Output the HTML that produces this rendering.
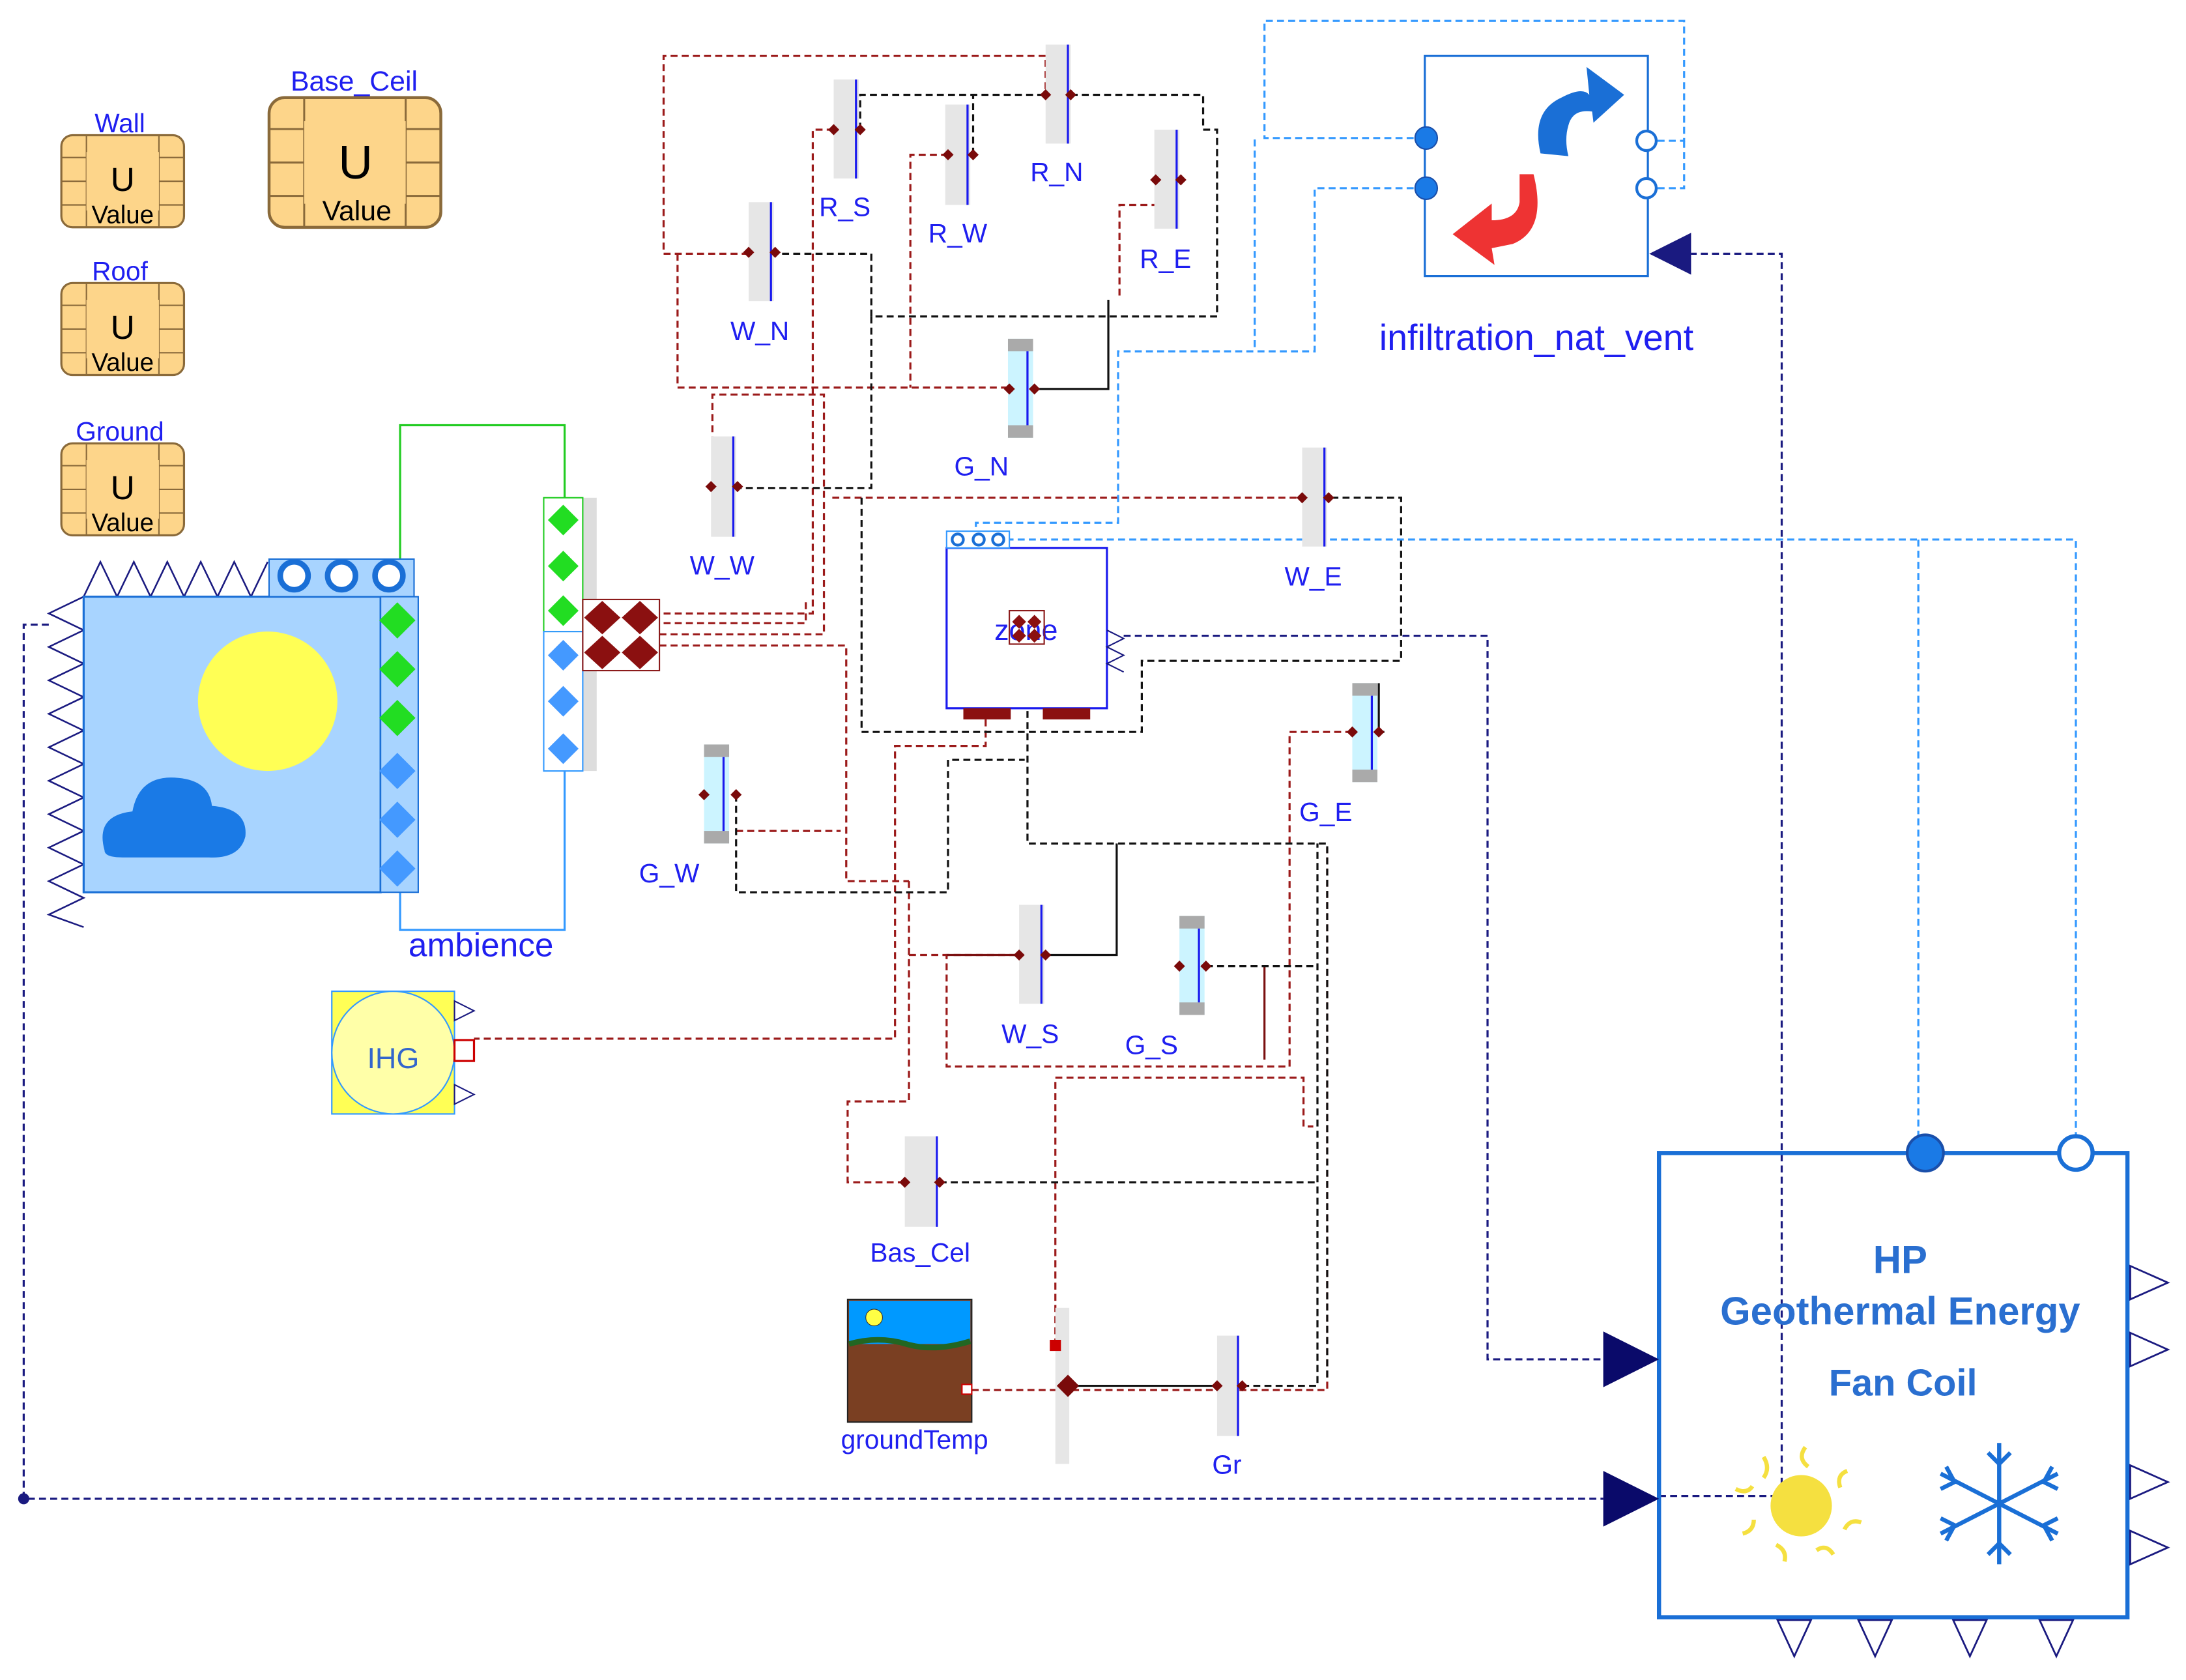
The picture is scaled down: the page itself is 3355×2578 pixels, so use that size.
<!DOCTYPE html>
<html><head><meta charset="utf-8"><style>
html,body{margin:0;padding:0;background:#fff;}
svg{display:block;}
text{font-family:"Liberation Sans",sans-serif;}
</style></head><body>
<svg width="3355" height="2578" viewBox="0 0 1568 1205" preserveAspectRatio="none" xmlns="http://www.w3.org/2000/svg">
<defs>
<g id="uval">
<rect x="0" y="0" width="88" height="66" rx="8" fill="#fdd58a" stroke="#8a6a3a" stroke-width="1.5"/>
<path d="M0 16H88M0 33H88M0 50H88M18 0V66M70 0V66" stroke="#8a6a3a" stroke-width="1" fill="none"/>
<rect x="18" y="12" width="52" height="42" fill="#fdd58a"/>
</g>
<g id="dia"><path d="M-4 0L0 -4L4 0L0 4Z" fill="#7a0a0a"/></g>
</defs>
<rect width="1568" height="1205" fill="#fff"/>

<!-- connections dark red -->
<g fill="none" stroke="#9b1a1a" stroke-width="1.5" stroke-dasharray="5,3">
<polyline points="537,182 476,182 476,40 750,40 750,68"/>
<polyline points="486,182 486,278 724,278"/>
<polyline points="598,93 583,93 583,440 473,440"/>
<polyline points="680,111 653,111 653,278"/>
<polyline points="829,129 829,147 803,147 803,215"/>
<polyline points="510,349 511,349 511,283 591,283 591,455 473,455"/>
<polyline points="476,447 578,447 578,430"/>
<polyline points="597,357 934,357"/>
<polyline points="473,463 607,463 607,632 652,632"/>
<polyline points="528,596 603,596"/>
<polyline points="970,525 925,525 925,765 679,765 679,685 731,685"/>
<polyline points="707,516 707,535 642,535 642,745 340,745"/>
<polyline points="652,632 652,790 608,790 608,848 649,848"/>
<polyline points="652,685 679,685"/>
<polyline points="757,965 757,773 935,773 935,808 942,808"/>
<polyline points="697,997 952,997 952,608"/>
</g>
<g fill="none" stroke="#7a1010" stroke-width="1.5">
<line x1="907" y1="693" x2="907" y2="760"/>
<line x1="679" y1="685" x2="731" y2="685"/>
</g>
<!-- black dashed -->
<g fill="none" stroke="#111" stroke-width="1.5" stroke-dasharray="5,3">
<polyline points="617,93 617,68 863,68 863,93 873,93 873,227 625,227 625,182 556,182"/>
<polyline points="698,111 698,68"/>
<polyline points="625,227 625,350 529,350"/>
<polyline points="618,357 618,525 819,525 819,474 1005,474 1005,357 953,357"/>
<polyline points="737,462 737,605 952,605 952,990"/>
<polyline points="528,570 528,640 680,640 680,545 735,545"/>
<polyline points="865,693 945,693"/>
<polyline points="674,848 945,848"/>
<polyline points="891,994 945,994 945,605"/>
<polyline points="989,525 993,525"/>
</g>
<g fill="none" stroke="#111" stroke-width="1.5">
<polyline points="742,279 795,279 795,215"/>
<polyline points="750,685 801,685 801,605"/>
<polyline points="767,994 873,994"/>
<polyline points="989,525 989,490"/>
</g>
<!-- navy dashed -->
<g fill="none" stroke="#1a1a80" stroke-width="1.5" stroke-dasharray="5,3">
<polyline points="35,448 17,448 17,1075 1150,1075"/>
<polyline points="1190,1073 1278,1073 1278,182 1213,182"/>
<polyline points="806,456 1067,456 1067,975 1150,975"/>
</g>
<circle cx="17" cy="1075" r="4" fill="#1a1a80"/>
<!-- light blue dashed -->
<g fill="none" stroke="#3399ff" stroke-width="1.5" stroke-dasharray="5,3">
<polyline points="1022,99 907,99 907,15 1208,15 1208,101 1181,101"/>
<polyline points="1181,135 1208,135 1208,101"/>
<polyline points="1022,135 943,135 943,252 802,252 802,375 700,375 700,387"/>
<polyline points="900,100 900,252"/>
<polyline points="722,387 1489,387 1489,815"/>
<polyline points="1376,387 1376,815"/>
</g>
<!-- green -->
<polyline points="287,428 287,305 405,305 405,357" fill="none" stroke="#22cc22" stroke-width="1.5"/>
<polyline points="405,553 405,667 287,667 287,640" fill="none" stroke="#3399ff" stroke-width="1.5"/>

<!-- U values -->
<use href="#uval" x="44" y="97"/><text x="86" y="95" font-size="19" fill="#1f1ff0" text-anchor="middle">Wall</text>
<text x="88" y="137" font-size="24" text-anchor="middle">U</text><text x="88" y="160" font-size="18" text-anchor="middle">Value</text>
<use href="#uval" x="44" y="203"/><text x="86" y="201" font-size="19" fill="#1f1ff0" text-anchor="middle">Roof</text>
<text x="88" y="243" font-size="24" text-anchor="middle">U</text><text x="88" y="266" font-size="18" text-anchor="middle">Value</text>
<use href="#uval" x="44" y="318"/><text x="86" y="316" font-size="19" fill="#1f1ff0" text-anchor="middle">Ground</text>
<text x="88" y="358" font-size="24" text-anchor="middle">U</text><text x="88" y="381" font-size="18" text-anchor="middle">Value</text>
<g transform="translate(193,70) scale(1.4,1.41)"><use href="#uval"/></g>
<text x="254" y="65" font-size="20" fill="#1f1ff0" text-anchor="middle">Base_Ceil</text>
<text x="255" y="128" font-size="34" text-anchor="middle">U</text><text x="256" y="158" font-size="20" text-anchor="middle">Value</text>

<!-- ambience -->
<g fill="#fff" stroke="#1a1a80" stroke-width="1.2">
<path d="M60 428L72 403L84 428L96 403L108 428L120 403L132 428L144 403L156 428L168 403L180 428L192 403"/>
<path d="M60 428L35 440L60 452L35 464L60 476L35 488L60 500L35 512L60 524L35 536L60 548L35 560L60 572L35 584L60 596L35 608L60 620L35 632L60 644L35 656L60 665"/>
</g>
<rect x="60" y="428" width="213" height="212" fill="#a8d4ff" stroke="#1a6fd6" stroke-width="1.5"/>
<circle cx="192" cy="503" r="50" fill="#ffff55"/>
<path d="M75 610Q68 585 95 582Q100 555 128 558Q150 560 152 578Q178 580 176 600Q172 616 150 615L88 615Q75 615 75 610Z" fill="#1a7ae6"/>
<rect x="193" y="401" width="104" height="27" fill="#a8d4ff" stroke="#1a6fd6"/>
<g fill="#fff" stroke="#1a6fd6" stroke-width="4"><circle cx="211" cy="413" r="10"/><circle cx="245" cy="413" r="10"/><circle cx="279" cy="413" r="10"/></g>
<rect x="273" y="428" width="27" height="212" fill="#a8d4ff" stroke="#1a6fd6"/>
<g fill="#22dd22"><path d="M285 432L298 445L285 458L272 445Z"/><path d="M285 467L298 480L285 493L272 480Z"/><path d="M285 502L298 515L285 528L272 515Z"/></g>
<g fill="#4499ff"><path d="M285 540L298 553L285 566L272 553Z"/><path d="M285 575L298 588L285 601L272 588Z"/><path d="M285 610L298 623L285 636L272 623Z"/></g>
<text x="345" y="686" font-size="24" fill="#1f1ff0" text-anchor="middle">ambience</text>

<!-- bus -->
<rect x="418" y="357" width="10" height="196" fill="#ddd"/>
<rect x="390" y="357" width="28" height="96" fill="#fff" stroke="#22cc22"/>
<rect x="390" y="453" width="28" height="100" fill="#fff" stroke="#3399ff"/>
<g fill="#22dd22"><path d="M404 362L415 373L404 384L393 373Z"/><path d="M404 395L415 406L404 417L393 406Z"/><path d="M404 427L415 438L404 449L393 438Z"/></g>
<g fill="#4499ff"><path d="M404 459L415 470L404 481L393 470Z"/><path d="M404 492L415 503L404 514L393 503Z"/><path d="M404 526L415 537L404 548L393 537Z"/></g>
<rect x="418" y="430" width="55" height="51" fill="#fff" stroke="#8b1a1a"/>
<g fill="#8b1010"><path d="M432 431L445 443L432 455L419 443Z"/><path d="M459 431L472 443L459 455L446 443Z"/><path d="M432 456L445 468L432 480L419 468Z"/><path d="M459 456L472 468L459 480L446 468Z"/></g>

<!-- zone -->
<rect x="679" y="393" width="115" height="115" fill="#fff" stroke="#1a1aee" stroke-width="1.5"/>
<rect x="679" y="381" width="45" height="12" fill="#fff" stroke="#3399ff"/>
<g fill="#fff" stroke="#1a6fd6" stroke-width="2"><circle cx="687" cy="387" r="4"/><circle cx="702" cy="387" r="4"/><circle cx="716" cy="387" r="4"/></g>
<text x="736" y="459" font-size="21" fill="#1f1ff0" text-anchor="middle">zone</text>
<rect x="724" y="438" width="25" height="24" fill="none" stroke="#8b1a1a"/>
<g fill="#8b1010"><path d="M731 441L736 446L731 451L726 446Z"/><path d="M742 441L747 446L742 451L737 446Z"/><path d="M731 451L736 456L731 461L726 456Z"/><path d="M742 451L747 456L742 461L737 456Z"/></g>
<rect x="691" y="508" width="34" height="8" fill="#8b1010"/><rect x="748" y="508" width="34" height="8" fill="#8b1010"/>
<path d="M794 452L806 458L794 464L806 470L794 476L806 482" fill="none" stroke="#1a1a80"/>

<!-- walls -->
<g font-size="19" fill="#1f1ff0" text-anchor="middle">
<g><rect x="598" y="57" width="18" height="71" fill="#e6e6e6"/><line x1="614" y1="57" x2="614" y2="128" stroke="#1a1aee" stroke-width="1.5"/><use href="#dia" x="598" y="93"/><use href="#dia" x="617" y="93"/><text x="606" y="155">R_S</text></g>
<g><rect x="678" y="75" width="18" height="72" fill="#e6e6e6"/><line x1="694" y1="75" x2="694" y2="147" stroke="#1a1aee" stroke-width="1.5"/><use href="#dia" x="680" y="111"/><use href="#dia" x="698" y="111"/><text x="687" y="174">R_W</text></g>
<g><rect x="750" y="32" width="18" height="71" fill="#e6e6e6"/><line x1="766" y1="32" x2="766" y2="103" stroke="#1a1aee" stroke-width="1.5"/><use href="#dia" x="750" y="68"/><use href="#dia" x="768" y="68"/><text x="758" y="130">R_N</text></g>
<g><rect x="828" y="93" width="18" height="71" fill="#e6e6e6"/><line x1="844" y1="93" x2="844" y2="164" stroke="#1a1aee" stroke-width="1.5"/><use href="#dia" x="829" y="129"/><use href="#dia" x="847" y="129"/><text x="836" y="192">R_E</text></g>
<g><rect x="537" y="145" width="18" height="71" fill="#e6e6e6"/><line x1="553" y1="145" x2="553" y2="216" stroke="#1a1aee" stroke-width="1.5"/><use href="#dia" x="537" y="181"/><use href="#dia" x="556" y="181"/><text x="545" y="244">W_N</text></g>
<g><rect x="510" y="313" width="18" height="72" fill="#e6e6e6"/><line x1="526" y1="313" x2="526" y2="385" stroke="#1a1aee" stroke-width="1.5"/><use href="#dia" x="510" y="349"/><use href="#dia" x="529" y="349"/><text x="518" y="412">W_W</text></g>
<g><rect x="934" y="321" width="18" height="71" fill="#e6e6e6"/><line x1="950" y1="321" x2="950" y2="392" stroke="#1a1aee" stroke-width="1.5"/><use href="#dia" x="934" y="357"/><use href="#dia" x="953" y="357"/><text x="942" y="420">W_E</text></g>
<g><rect x="731" y="649" width="18" height="71" fill="#e6e6e6"/><line x1="747" y1="649" x2="747" y2="720" stroke="#1a1aee" stroke-width="1.5"/><use href="#dia" x="731" y="685"/><use href="#dia" x="750" y="685"/><text x="739" y="748">W_S</text></g>
<g><rect x="649" y="815" width="22" height="65" fill="#e6e6e6"/><line x1="672" y1="815" x2="672" y2="880" stroke="#1a1aee" stroke-width="1.5"/><use href="#dia" x="649" y="848"/><use href="#dia" x="674" y="848"/><text x="660" y="905">Bas_Cel</text></g>
<g><rect x="873" y="958" width="16" height="72" fill="#e6e6e6"/><line x1="888" y1="958" x2="888" y2="1030" stroke="#1a1aee" stroke-width="1.5"/><use href="#dia" x="873" y="994"/><use href="#dia" x="891" y="994"/><text x="880" y="1057">Gr</text></g>
<!-- windows -->
<g><rect x="723" y="243" width="18" height="71" fill="#ccf4ff"/><rect x="723" y="243" width="18" height="9" fill="#aaa"/><rect x="723" y="305" width="18" height="9" fill="#aaa"/><line x1="737" y1="252" x2="737" y2="305" stroke="#1a1aee" stroke-width="1.5"/><use href="#dia" x="724" y="279"/><use href="#dia" x="742" y="279"/><text x="704" y="341">G_N</text></g>
<g><rect x="970" y="490" width="18" height="71" fill="#ccf4ff"/><rect x="970" y="490" width="18" height="9" fill="#aaa"/><rect x="970" y="552" width="18" height="9" fill="#aaa"/><line x1="984" y1="499" x2="984" y2="552" stroke="#1a1aee" stroke-width="1.5"/><use href="#dia" x="970" y="525"/><use href="#dia" x="989" y="525"/><text x="951" y="589">G_E</text></g>
<g><rect x="505" y="534" width="18" height="71" fill="#ccf4ff"/><rect x="505" y="534" width="18" height="9" fill="#aaa"/><rect x="505" y="596" width="18" height="9" fill="#aaa"/><line x1="519" y1="543" x2="519" y2="596" stroke="#1a1aee" stroke-width="1.5"/><use href="#dia" x="505" y="570"/><use href="#dia" x="528" y="570"/><text x="480" y="633">G_W</text></g>
<g><rect x="846" y="657" width="18" height="71" fill="#ccf4ff"/><rect x="846" y="657" width="18" height="9" fill="#aaa"/><rect x="846" y="719" width="18" height="9" fill="#aaa"/><line x1="860" y1="666" x2="860" y2="719" stroke="#1a1aee" stroke-width="1.5"/><use href="#dia" x="846" y="693"/><use href="#dia" x="865" y="693"/><text x="826" y="756">G_S</text></g>
</g>
<rect x="757" y="938" width="10" height="112" fill="#e6e6e6"/>
<rect x="753" y="961" width="8" height="8" fill="#cc0000"/>
<path d="M766 986L774 994L766 1002L758 994Z" fill="#7a0a0a"/>

<!-- IHG -->
<rect x="238" y="711" width="88" height="88" fill="#ffff55" stroke="#3399ff"/>
<circle cx="282" cy="755" r="44" fill="#ffffa8" stroke="#3399ff"/>
<text x="282" y="766" font-size="21" fill="#3366cc" text-anchor="middle">IHG</text>
<path d="M326 718L340 725L326 732Z M326 778L340 785L326 792Z" fill="#fff" stroke="#1a1a80"/>
<rect x="326" y="746" width="14" height="15" fill="#fff" stroke="#cc0000" stroke-width="1.5"/>

<!-- groundTemp -->
<rect x="608" y="932" width="89" height="88" fill="#7a3f22" stroke="#222"/>
<rect x="609" y="933" width="87" height="31" fill="#0099ff"/>
<path d="M609 964Q630 958 650 964T696 962" stroke="#226622" stroke-width="4" fill="none"/>
<circle cx="627" cy="945" r="6" fill="#ffff44" stroke="#333" stroke-width="0.5"/>
<rect x="690" y="993" width="7" height="7" fill="#fff" stroke="#cc0000"/>
<text x="656" y="1039" font-size="19" fill="#1f1ff0" text-anchor="middle">groundTemp</text>

<!-- infiltration -->
<rect x="1022" y="40" width="160" height="158" fill="#fff" stroke="#1a6fd6" stroke-width="1.5"/>
<path d="M1105 110Q1098 80 1120 70Q1135 62 1140 68L1138 48L1165 68L1143 88L1142 80Q1128 78 1125 90Q1122 100 1125 112Z" fill="#1a6fd6"/>
<path d="M1100 125Q1110 165 1085 175L1070 178L1072 190L1042 168L1070 146L1070 158Q1088 158 1090 145L1090 125Z" fill="#ee3333"/>
<circle cx="1023" cy="99" r="8" fill="#1a7ae6" stroke="#1a4faa"/><circle cx="1023" cy="135" r="8" fill="#1a7ae6" stroke="#1a4faa"/>
<circle cx="1181" cy="101" r="7" fill="#fff" stroke="#1a6fd6" stroke-width="2"/><circle cx="1181" cy="135" r="7" fill="#fff" stroke="#1a6fd6" stroke-width="2"/>
<path d="M1183 182L1213 167L1213 197Z" fill="#1a1a80"/>
<text x="1102" y="251" font-size="26" fill="#1f1ff0" text-anchor="middle">infiltration_nat_vent</text>

<!-- HP -->
<rect x="1190" y="827" width="336" height="333" fill="none" stroke="#1a6fd6" stroke-width="3"/>
<circle cx="1381" cy="827" r="13" fill="#1a7ae6" stroke="#1a4faa" stroke-width="2"/>
<circle cx="1489" cy="827" r="12" fill="#fff" stroke="#1a6fd6" stroke-width="3"/>
<g font-weight="bold" fill="#2a6fd0" text-anchor="middle">
<text x="1363" y="913" font-size="28">HP</text>
<text x="1363" y="950" font-size="28">Geothermal Energy</text>
<text x="1365" y="1001" font-size="27">Fan Coil</text>
</g>
<path d="M1150 955L1190 975L1150 995Z M1150 1055L1190 1075L1150 1095Z" fill="#0a0a6a"/>
<g fill="#fff" stroke="#1a1a80" stroke-width="1.3">
<path d="M1528 908L1555 920L1528 932Z"/><path d="M1528 956L1555 968L1528 980Z"/><path d="M1528 1051L1555 1063L1528 1075Z"/><path d="M1528 1098L1555 1110L1528 1122Z"/>
<path d="M1275 1162L1287 1188L1299 1162Z"/><path d="M1333 1162L1345 1188L1357 1162Z"/><path d="M1401 1162L1413 1188L1425 1162Z"/><path d="M1463 1162L1475 1188L1487 1162Z"/>
</g>
<circle cx="1292" cy="1080" r="22" fill="#f5e040"/>
<g stroke="#f5e040" stroke-width="3" fill="none">
<path d="M1265 1045q5 8 0 15M1295 1038q-6 8 2 14M1325 1055q-8 3 -5 12M1335 1092q-8 -3 -12 5M1315 1115q-5 -8 -12 -3M1280 1120q2 -8 -6 -12M1250 1100q8 -2 8 -10M1245 1068q8 4 12 -2"/>
</g>
<g stroke="#1a6fd6" stroke-width="3" fill="none">
<path d="M1434 1035V1122M1392 1057L1476 1100M1392 1100L1476 1057"/>
<path d="M1426 1042L1434 1050L1442 1042M1426 1115L1434 1107L1442 1115M1392 1068L1402 1063L1396 1052M1476 1089L1466 1094L1472 1105M1392 1089L1402 1094L1396 1105M1476 1068L1466 1063L1472 1052"/>
</g>
</svg>
</body></html>
